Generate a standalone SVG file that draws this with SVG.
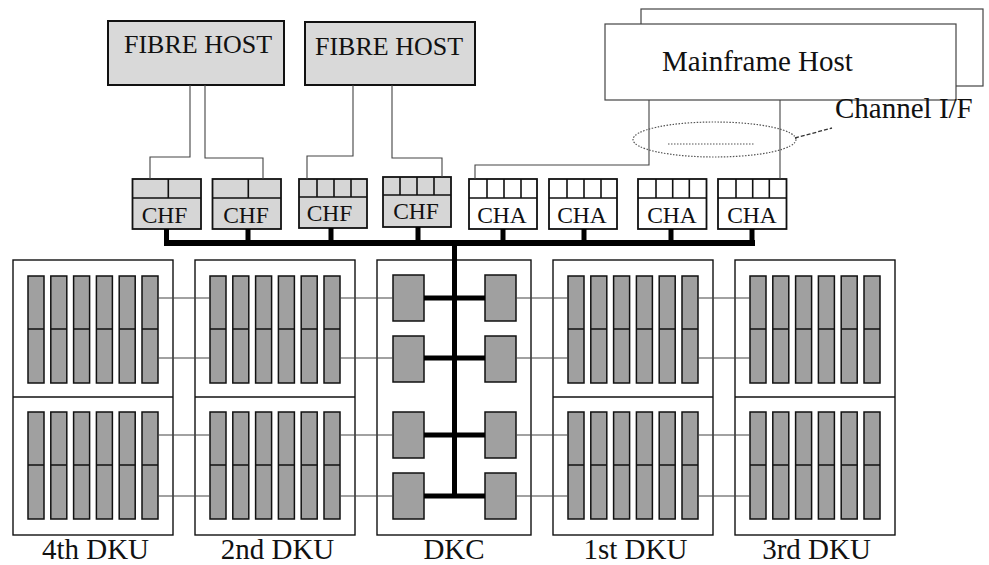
<svg xmlns="http://www.w3.org/2000/svg" xmlns:xlink="http://www.w3.org/1999/xlink" width="989" height="565" viewBox="0 0 989 565">
  <style>
    text { font-family: "Liberation Serif", "Times New Roman", serif; fill: #111; }
    .host { fill: #d9d9d9; stroke: #111; stroke-width: 2; }
    .mf { fill: #fff; stroke: #444; stroke-width: 1.2; }
    .chf { fill: #d6d6d6; stroke: #111; stroke-width: 1.8; }
    .cha { fill: #fff; stroke: #111; stroke-width: 1.8; }
    .cell { stroke: #111; stroke-width: 1.6; fill: none; }
    .unit { fill: #fff; stroke: #111; stroke-width: 1.4; }
    .disk { fill: #a0a0a0; stroke: #111; stroke-width: 1.5; }
    .wire { fill: none; stroke: #444; stroke-width: 1.1; }
    .bus { fill: none; stroke: #000; stroke-width: 6; }
    .stub { fill: none; stroke: #000; stroke-width: 5; }
    .lbl { font-size: 29px; text-anchor: middle; }
    .ad { font-size: 23.5px; text-anchor: middle; }
  </style>
  <defs>
    <!-- one disk column: two stacked drives -->
    <g id="drive">
      <rect class="disk" x="0" y="0" width="16" height="107"/>
      <line x1="0" y1="53" x2="16" y2="53" stroke="#111" stroke-width="1.5"/>
    </g>
    <!-- a row of six disk columns -->
    <g id="bank">
      <use xlink:href="#drive" x="0"/>
      <use xlink:href="#drive" x="22.8"/>
      <use xlink:href="#drive" x="45.6"/>
      <use xlink:href="#drive" x="68.4"/>
      <use xlink:href="#drive" x="91.2"/>
      <use xlink:href="#drive" x="114"/>
    </g>
    <!-- disk unit cabinet with two banks -->
    <g id="dku">
      <rect class="unit" x="0" y="0" width="160" height="275"/>
      <line x1="0" y1="137" x2="160" y2="137" stroke="#111" stroke-width="1.6"/>
      <use xlink:href="#bank" x="15" y="16"/>
      <use xlink:href="#bank" x="15" y="152"/>
    </g>
  </defs>

  <!-- hosts -->
  <g id="fibre-host-1">
    <rect class="host" x="108" y="21" width="176" height="64"/>
    <text x="198" y="53" font-size="26" text-anchor="middle">FIBRE HOST</text>
  </g>
  <g id="fibre-host-2">
    <rect class="host" x="305" y="22" width="170" height="63"/>
    <text x="389" y="55" font-size="26" text-anchor="middle">FIBRE HOST</text>
  </g>
  <g id="mainframe-host">
    <rect class="mf" x="641" y="9" width="342" height="77"/>
    <rect class="mf" x="605" y="24" width="351" height="76"/>
    <text x="662" y="71" font-size="29">Mainframe Host</text>
  </g>
  <g id="channel-if">
    <ellipse cx="714.5" cy="139.5" rx="81.5" ry="17.5" fill="none" stroke="#555" stroke-width="1.2" stroke-dasharray="1.5 1.5"/>
    <line x1="668" y1="144" x2="754" y2="144" stroke="#555" stroke-width="1.2" stroke-dasharray="1.5 1.5"/>
    <line x1="795" y1="138" x2="832" y2="128" stroke="#333" stroke-width="1.3" stroke-dasharray="4 2"/>
    <text x="835" y="118" font-size="29">Channel I/F</text>
  </g>

  <!-- channel adapters -->
  <g id="chf-1">
    <rect class="chf" x="132.5" y="179" width="68.5" height="50"/>
    <path class="cell" d="M132.5 198H201M168.3 179V198"/>
    <text class="ad" x="164.5" y="222.7">CHF</text>
  </g>
  <g id="chf-2">
    <rect class="chf" x="212.5" y="179" width="68.5" height="50"/>
    <path class="cell" d="M212.5 198H281M248.3 179V198"/>
    <text class="ad" x="246" y="222.7">CHF</text>
  </g>
  <g id="chf-3">
    <rect class="chf" x="299" y="179" width="68" height="49"/>
    <path class="cell" d="M299 197H367M317 179V197M334 179V197M351 179V197"/>
    <text class="ad" x="329.5" y="220.7">CHF</text>
  </g>
  <g id="chf-4">
    <rect class="chf" x="383" y="177" width="68" height="50"/>
    <path class="cell" d="M383 195H451M400 177V195M417 177V195M434 177V195"/>
    <text class="ad" x="416" y="219">CHF</text>
  </g>
  <g id="cha-1">
    <rect class="cha" x="469" y="179" width="68" height="50"/>
    <path class="cell" d="M469 198H537M487 179V198M504 179V198M521 179V198"/>
    <text class="ad" x="502" y="222.7">CHA</text>
  </g>
  <g id="cha-2">
    <rect class="cha" x="549" y="179" width="68" height="50"/>
    <path class="cell" d="M549 198H617M567 179V198M584 179V198M601 179V198"/>
    <text class="ad" x="582" y="222.7">CHA</text>
  </g>
  <g id="cha-3">
    <rect class="cha" x="638" y="179" width="68.5" height="50"/>
    <path class="cell" d="M638 198H706.5M656 179V198M672.7 179V198M689.3 179V198"/>
    <text class="ad" x="672" y="222.7">CHA</text>
  </g>
  <g id="cha-4">
    <rect class="cha" x="718" y="179" width="68.5" height="50"/>
    <path class="cell" d="M718 198H786.5M736 179V198M752.7 179V198M769.3 179V198"/>
    <text class="ad" x="752" y="222.7">CHA</text>
  </g>

  <!-- disk units and controller -->
  <g id="dku-4th">
    <use xlink:href="#dku" x="13" y="260"/>
    <text class="lbl" x="95.5" y="559">4th DKU</text>
  </g>
  <g id="dku-2nd">
    <use xlink:href="#dku" x="195" y="260"/>
    <text class="lbl" x="277.5" y="559">2nd DKU</text>
  </g>
  <g id="dkc">
    <rect class="unit" x="377" y="260" width="154" height="275"/>
    <rect class="disk" x="393" y="275" width="31" height="46"/>
    <rect class="disk" x="393" y="336" width="31" height="46"/>
    <rect class="disk" x="393" y="412" width="31" height="46"/>
    <rect class="disk" x="393" y="473" width="31" height="46"/>
    <rect class="disk" x="485" y="275" width="31" height="46"/>
    <rect class="disk" x="485" y="336" width="31" height="46"/>
    <rect class="disk" x="485" y="412" width="31" height="46"/>
    <rect class="disk" x="485" y="473" width="31" height="46"/>
    <text class="lbl" x="454" y="559">DKC</text>
  </g>
  <g id="dku-1st">
    <use xlink:href="#dku" x="553" y="260"/>
    <text class="lbl" x="635.5" y="559">1st DKU</text>
  </g>
  <g id="dku-3rd">
    <use xlink:href="#dku" x="735" y="260"/>
    <text class="lbl" x="816.5" y="559">3rd DKU</text>
  </g>

  <!-- connectors -->
  <g id="connectors">
    <!-- host links -->
    <path class="wire" d="M190 85V157H150V179"/>
    <path class="wire" d="M205 85V158H263V179"/>
    <path class="wire" d="M353 85V156H307V179"/>
    <path class="wire" d="M392 85V158H442V177"/>
    <path class="wire" d="M649 100V165H475V179"/>
    <path class="wire" d="M780 100V179" stroke="#111"/>
    <!-- internal bus -->
    <path class="bus" d="M164 243H755"/>
    <path class="stub" d="M166.5 229V243M248 229V243M331 228V243M418 227V243M503 229V243M584 229V243M671 229V243M752 229V243"/>
    <path class="stub" d="M454.5 240V498"/>
    <path class="stub" d="M424 298H485M424 358H485M424 435H485M424 496H485"/>
    <!-- disk paths -->
    <path class="wire" d="M158 298H210M158 358H210M158 435H210M158 496H210"/>
    <path class="wire" d="M340 298H393M340 358H393M340 435H393M340 496H393"/>
    <path class="wire" d="M516 298H568M516 358H568M516 435H568M516 496H568"/>
    <path class="wire" d="M698 298H750M698 358H750M698 435H750M698 496H750"/>
  </g>
</svg>
